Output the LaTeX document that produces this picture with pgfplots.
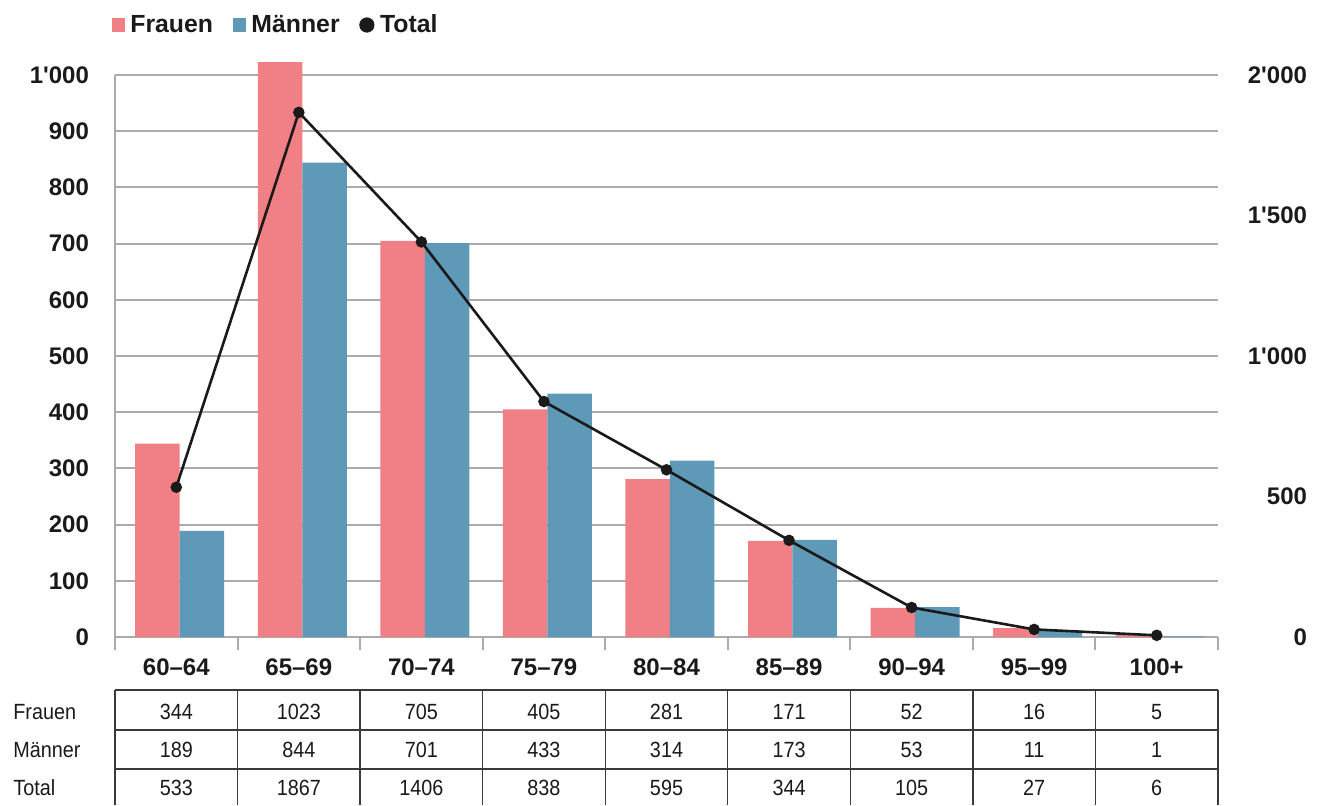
\documentclass[border=0pt]{standalone}
\usepackage{pgfplots}
\pgfplotsset{compat=1.18}
\usepackage{fontspec}
\setmainfont{Liberation Sans}[Ligatures=TeXOff]
\newfontfamily\condfont[FakeStretch=0.9]{Liberation Sans}
\definecolor{fr}{HTML}{F07F86}
\definecolor{ma}{HTML}{5E9AB8}
\definecolor{gridc}{HTML}{ABABAB}
\definecolor{txt}{HTML}{1A1A1A}
\definecolor{tabc}{HTML}{3A3A3A}

\begin{document}
\begin{tikzpicture}[x=1pt,y=1pt]
\useasboundingbox (-57.5,-84) rectangle (605.5,318.5);
\begin{axis}[
  at={(0,0)}, anchor=south west,
  scale only axis, width=551.5pt, height=281pt,
  xmin=-0.5, xmax=8.5, ymin=0, ymax=1000,
  clip=false,
  axis x line*=bottom, axis y line*=left,
  axis line style={gridc, line width=1pt},
  ymajorgrids, grid style={gridc, line width=1pt},
  xtick={0,...,8},
  xticklabels={60–64,65–69,70–74,75–79,80–84,85–89,90–94,95–99,100+},
  minor xtick={-0.5,0.5,...,8.5},
  major tick length=0pt, minor tick length=6.5pt,
  tick align=outside,
  minor tick style={gridc, line width=1pt},
  ytick={0,100,...,1000},
  scaled y ticks=false,
  /pgf/number format/1000 sep={'},
  /pgf/number format/assume math mode=true,
  ticklabel style={font=\bfseries\fontsize{12}{14}\selectfont, text=txt},
  xticklabel style={yshift=-7.5pt},
  yticklabel style={xshift=-9.5pt},
  legend style={at={(axis description cs:0,1)}, anchor=west, xshift=-1.5pt, yshift=25pt,
    draw=none, fill=none, inner sep=0pt, outer sep=0pt,
    font=\bfseries\fontsize{12.4}{14}\selectfont, text=txt,
    nodes={inner sep=1pt},
    /tikz/every odd column/.append style={column sep=2pt},
    /tikz/every even column/.append style={column sep=9pt}},
  legend columns=-1,
  legend image code/.code={\draw[#1] plot coordinates {(0pt,0pt)};},
]
\addplot[ybar, bar width=0.363, bar shift=-0.1535, fill=fr, draw=none, forget plot]
  coordinates {(0,344) (1,1023) (2,705) (3,405) (4,281) (5,171) (6,52) (7,16) (8,5)};
\addplot[ybar, bar width=0.363, bar shift=0.2095, fill=ma, draw=none, forget plot]
  coordinates {(0,189) (1,844) (2,701) (3,433) (4,314) (5,173) (6,53) (7,11) (8,1)};
\addlegendimage{only marks, mark=square*, color=fr, mark options={fill=fr, draw=fr}, mark size=3.1pt}
\addlegendentry{Frauen}
\addlegendimage{only marks, mark=square*, color=ma, mark options={fill=ma, draw=ma}, mark size=3.1pt}
\addlegendentry{Männer}
\addlegendimage{only marks, mark=*, color=txt, mark options={fill=txt, draw=txt}, mark size=3.6pt}
\addlegendentry{Total}
\end{axis}
\begin{axis}[
  at={(0,0)}, anchor=south west,
  scale only axis, width=551.5pt, height=281pt,
  xmin=-0.5, xmax=8.5, ymin=0, ymax=2000,
  clip=false,
  axis x line=none, axis y line*=right,
  y axis line style={draw=none},
  ytick={0,500,...,2000},
  major tick length=0pt,
  scaled y ticks=false,
  /pgf/number format/1000 sep={'},
  /pgf/number format/assume math mode=true,
  yticklabel style={font=\bfseries\fontsize{12}{14}\selectfont, text=txt, anchor=east, xshift=48pt},
]
\addplot[txt, line width=1.3pt, mark=*, mark size=2.2pt, mark options={fill=txt}]
  coordinates {(0,533) (1,1867) (2,1406) (3,838) (4,595) (5,344) (6,105) (7,27) (8,6)};
\end{axis}
% table below the chart
\begin{scope}[tabc, line width=0.7pt]
  \foreach \y in {-26.5,-46.5,-66} \draw (0,\y) -- (551.5,\y);
  \foreach \k in {0,...,9} \draw ({\k*61.2778},-26.5) -- ({\k*61.2778},-84);
\end{scope}
\begin{scope}[font=\condfont\fontsize{11}{13}\selectfont, text=txt]
  \node[anchor=west, inner sep=0pt] at (-51,-37.5) {Frauen};
  \node[anchor=west, inner sep=0pt] at (-51,-56.5) {Männer};
  \node[anchor=west, inner sep=0pt] at (-51,-75.5) {Total};
  \foreach \v [count=\i from 0] in {344,1023,705,405,281,171,52,16,5}
    \node at ({(\i+0.5)*61.2778},-37.5) {\v};
  \foreach \v [count=\i from 0] in {189,844,701,433,314,173,53,11,1}
    \node at ({(\i+0.5)*61.2778},-56.5) {\v};
  \foreach \v [count=\i from 0] in {533,1867,1406,838,595,344,105,27,6}
    \node at ({(\i+0.5)*61.2778},-75.5) {\v};
\end{scope}
\end{tikzpicture}
\end{document}
